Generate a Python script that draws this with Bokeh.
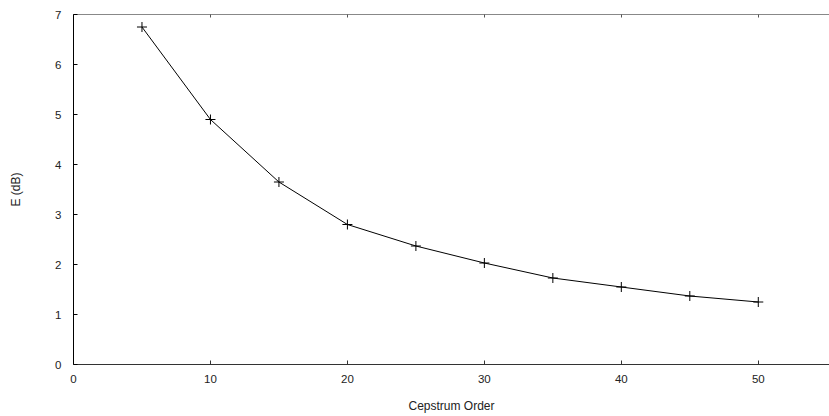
from bokeh.plotting import figure
from bokeh.models import LinearAxis, Range1d, FixedTicker
from bokeh.embed import file_html
from bokeh.resources import INLINE

order = [5, 10, 15, 20, 25, 30, 35, 40, 45, 50]
err_db = [6.75, 4.9, 3.65, 2.8, 2.37, 2.03, 1.73, 1.55, 1.37, 1.25]
x_ticks = [0, 10, 20, 30, 40, 50]
y_ticks = [0, 1, 2, 3, 4, 5, 6, 7]

p = figure(width=829, height=416, output_backend="svg", toolbar_location=None,
           x_range=Range1d(0, 55.2), y_range=Range1d(0, 7),
           min_border_left=73, min_border_right=0, min_border_top=14, min_border_bottom=52)
p.outline_line_color = None
p.xgrid.visible = False
p.ygrid.visible = False

p.line(order, err_db, line_color="black", line_width=1)
p.scatter(order, err_db, marker="cross", size=10, line_color="black", line_width=1)

font = "Liberation Sans"
for ax in p.xaxis + p.yaxis:
    ax.major_tick_in = 4
    ax.major_tick_out = 0
    ax.minor_tick_line_color = None
    ax.major_label_text_font = font
    ax.major_label_text_font_size = "11.5px"
    ax.major_label_text_color = "#222222"
    ax.axis_label_text_font = font
    ax.axis_label_text_font_size = "12px"
    ax.axis_label_text_font_style = "normal"
    ax.axis_label_text_color = "#222222"

p.xaxis.ticker = FixedTicker(ticks=x_ticks)
p.yaxis.ticker = FixedTicker(ticks=y_ticks)
p.xaxis.axis_label = "Cepstrum Order"
p.yaxis.axis_label = "E (dB)"
p.xaxis.axis_line_color = "#333333"
p.xaxis.major_tick_line_color = "#333333"
p.yaxis.axis_line_color = "black"
p.xaxis.major_label_standoff = 10
p.yaxis.major_label_standoff = 12
p.xaxis.axis_label_standoff = 13
p.yaxis.axis_label_standoff = 29

top = LinearAxis(ticker=FixedTicker(ticks=x_ticks), axis_line_color="#888888",
                 major_tick_in=3, major_tick_out=0, minor_tick_line_color=None,
                 major_tick_line_color="#555555",
                 major_label_text_color=None, major_label_text_font_size="1px",
                 major_label_standoff=0)
p.add_layout(top, "above")

open("out.html", "w").write(file_html(p, INLINE))
